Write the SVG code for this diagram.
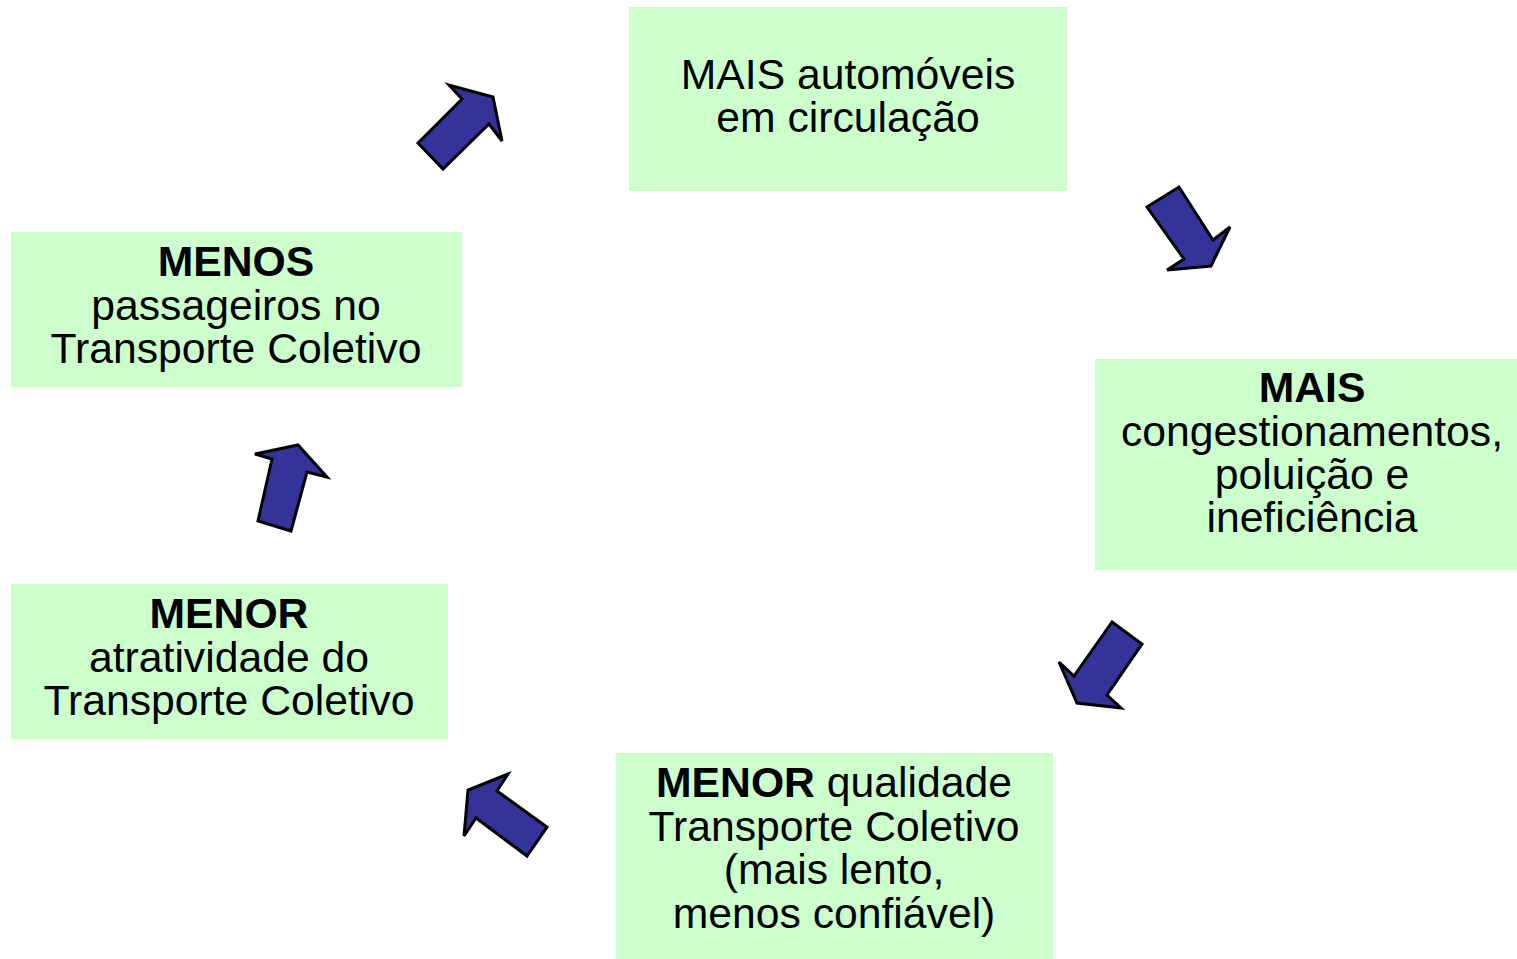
<svg xmlns="http://www.w3.org/2000/svg" width="1517" height="959" viewBox="0 0 1517 959">
<style>
.box{fill:#ccffcc;stroke:none}
.t{font-family:"Liberation Sans",Arial,sans-serif;font-size:42.7px;fill:#000;text-anchor:middle}
.b{font-weight:bold}
.arr{fill:#333399;stroke:#000;stroke-width:3;stroke-linejoin:miter}
</style>
<rect width="1517" height="959" fill="#fff"/>
<g id="node-carros">
<rect class="box" x="629" y="7" width="438" height="184"/>
<text class="t" x="848" y="89">MAIS automóveis</text>
<text class="t" x="848" y="132">em circulação</text>
</g>
<g id="node-congestionamentos">
<rect class="box" x="1095" y="359" width="422" height="211"/>
<text class="t b" x="1312" y="402">MAIS</text>
<text class="t" x="1312" y="446">congestionamentos,</text>
<text class="t" x="1312" y="489">poluição e</text>
<text class="t" x="1312" y="532">ineficiência</text>
</g>
<g id="node-qualidade">
<rect class="box" x="616" y="753" width="437" height="206"/>
<text class="t" x="834" y="797"><tspan class="b">MENOR</tspan> qualidade</text>
<text class="t" x="834" y="841">Transporte Coletivo</text>
<text class="t" x="834" y="884">(mais lento,</text>
<text class="t" x="834" y="928">menos confiável)</text>
</g>
<g id="node-atratividade">
<rect class="box" x="11" y="584" width="437" height="155"/>
<text class="t b" x="229" y="628">MENOR</text>
<text class="t" x="229" y="672">atratividade do</text>
<text class="t" x="229" y="715">Transporte Coletivo</text>
</g>
<g id="node-passageiros">
<rect class="box" x="11" y="232" width="451" height="155"/>
<text class="t b" x="236" y="276">MENOS</text>
<text class="t" x="236" y="320">passageiros no</text>
<text class="t" x="236" y="363">Transporte Coletivo</text>
</g>
<g id="connectors">
<polygon class="arr" points="418,143 462,99 449,85 493,97 502,141 489,124 443,169"/>
<polygon class="arr" points="1147,207 1179,187 1213,240 1230,227 1211,266 1167,270 1184,259"/>
<polygon class="arr" points="1112,622 1142,644 1107,695 1121,708 1077,703 1059,662 1074,676"/>
<polygon class="arr" points="508,774 497,791 547,827 527,856 476,818 464,836 468,790"/>
<polygon class="arr" points="255,454 298,445 327,477 307,472 291,531 258,521 272,459"/>
</g>
</svg>
